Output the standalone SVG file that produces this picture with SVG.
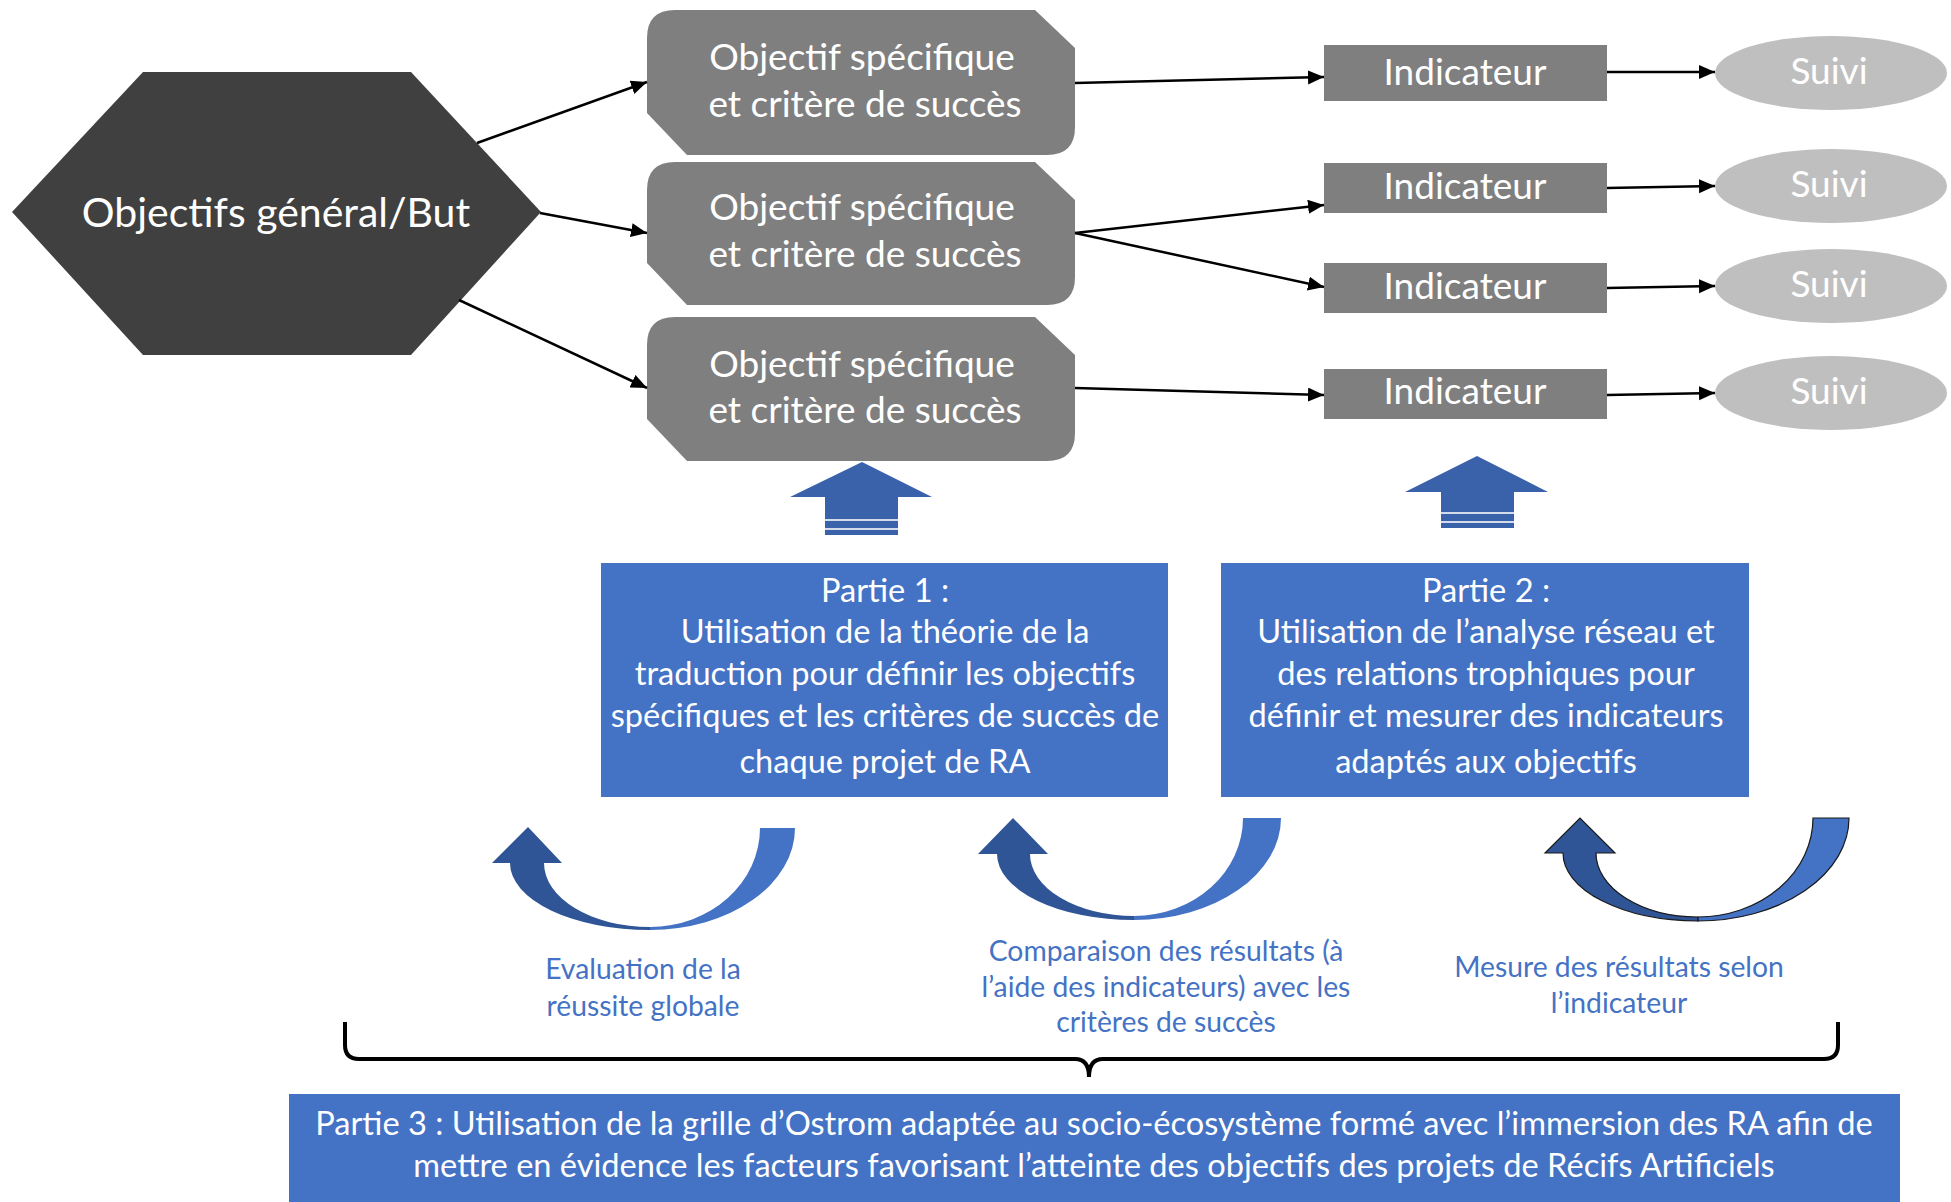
<svg xmlns="http://www.w3.org/2000/svg" width="1951" height="1202" viewBox="0 0 1951 1202">
<style>
text{font-family:Lato,"Open Sans","Liberation Sans",sans-serif;text-anchor:middle}
.w{fill:#fff}
.hx{font-size:41px}
.bx{font-size:37px}
.pt{font-size:32.6px}
.lb{font-size:28.3px;fill:#4472C4}
.p3{font-size:32.6px}
.obj{fill:#7f7f7f}
.ind{fill:#7f7f7f}
.sv{fill:#bfbfbf}
.blue{fill:#4472C4}
.up{fill:#3A62AB}
.st{fill:#D3DBEA}
.dk{fill:#2F5597}
.lt{fill:#4472C4}
.con line{stroke:#000;stroke-width:2.5;marker-end:url(#ah)}
</style>
<defs>
<marker id="ah" markerUnits="userSpaceOnUse" markerWidth="18" markerHeight="16" refX="16" refY="7" orient="auto"><path d="M0,0 L16,7 L0,14 z" fill="#000"/></marker>
</defs>
<rect width="1951" height="1202" fill="#fff"/>
<g id="but">
<polygon points="12,212 143,72 411,72 541,212 411,355 143,355" fill="#404040"/>
<text class="hx w" x="276" y="227">Objectifs général/But</text>
</g>
<g id="obj1">
<path class="obj" d="M675,10 L1035,10 L1075,48 L1075,127 Q1075,155 1047,155 L687,155 L647,113 L647,38 Q647,10 675,10 Z"/>
<text class="bx w" x="862" y="70">Objectif spécifique</text>
<text class="bx w" x="865" y="117">et critère de succès</text>
</g>
<g id="obj2">
<path class="obj" d="M675,162 L1035,162 L1075,200 L1075,277 Q1075,305 1047,305 L687,305 L647,263 L647,190 Q647,162 675,162 Z"/>
<text class="bx w" x="862" y="220">Objectif spécifique</text>
<text class="bx w" x="865" y="267">et critère de succès</text>
</g>
<g id="obj3">
<path class="obj" d="M675,317 L1035,317 L1075,355 L1075,433 Q1075,461 1047,461 L687,461 L647,419 L647,345 Q647,317 675,317 Z"/>
<text class="bx w" x="862" y="377">Objectif spécifique</text>
<text class="bx w" x="865" y="423">et critère de succès</text>
</g>
<g id="ind1"><rect class="ind" x="1324" y="45" width="283" height="56"/><text class="bx w" x="1465" y="85">Indicateur</text></g>
<g id="ind2"><rect class="ind" x="1324" y="163" width="283" height="50"/><text class="bx w" x="1465" y="199">Indicateur</text></g>
<g id="ind3"><rect class="ind" x="1324" y="263" width="283" height="50"/><text class="bx w" x="1465" y="299">Indicateur</text></g>
<g id="ind4"><rect class="ind" x="1324" y="369" width="283" height="50"/><text class="bx w" x="1465" y="404">Indicateur</text></g>
<g id="suivi1"><ellipse class="sv" cx="1831" cy="73" rx="116" ry="37"/><text class="bx w" x="1829" y="84">Suivi</text></g>
<g id="suivi2"><ellipse class="sv" cx="1831" cy="186" rx="116" ry="37"/><text class="bx w" x="1829" y="197">Suivi</text></g>
<g id="suivi3"><ellipse class="sv" cx="1831" cy="286" rx="116" ry="37"/><text class="bx w" x="1829" y="297">Suivi</text></g>
<g id="suivi4"><ellipse class="sv" cx="1831" cy="393" rx="116" ry="37"/><text class="bx w" x="1829" y="404">Suivi</text></g>
<g id="connectors" class="con">
<line x1="477" y1="143" x2="647" y2="82"/>
<line x1="540" y1="213" x2="647" y2="233"/>
<line x1="459" y1="300" x2="647" y2="388"/>
<line x1="1075" y1="83" x2="1324" y2="77"/>
<line x1="1075" y1="233" x2="1324" y2="205"/>
<line x1="1075" y1="233" x2="1324" y2="287"/>
<line x1="1075" y1="388" x2="1324" y2="395"/>
<line x1="1607" y1="72" x2="1715" y2="72"/>
<line x1="1607" y1="188" x2="1715" y2="186"/>
<line x1="1607" y1="288" x2="1715" y2="286"/>
<line x1="1607" y1="395" x2="1715" y2="393"/>
</g>
<g id="uparrow1">
<polygon class="up" points="862,462 932,497 898,497 898,535 825,535 825,497 790,497"/>
<rect class="st" x="825" y="519" width="73" height="2"/>
<rect class="st" x="825" y="528" width="73" height="2"/>
</g>
<g id="uparrow2">
<polygon class="up" points="1477,456 1548,492 1514,492 1514,528 1441,528 1441,492 1405,492"/>
<rect class="st" x="1441" y="512" width="73" height="2"/>
<rect class="st" x="1441" y="521" width="73" height="2"/>
</g>
<g id="partie1">
<rect class="blue" x="601" y="563" width="567" height="234"/>
<text class="pt w" x="885" y="602">Partie 1 :</text>
<text class="pt w" x="885" y="643">Utilisation de la théorie de la</text>
<text class="pt w" x="885" y="685">traduction pour définir les objectifs</text>
<text class="pt w" x="885" y="727">spécifiques et les critères de succès de</text>
<text class="pt w" x="885" y="773">chaque projet de RA</text>
</g>
<g id="partie2">
<rect class="blue" x="1221" y="563" width="528" height="234"/>
<text class="pt w" x="1486" y="602">Partie 2 :</text>
<text class="pt w" x="1486" y="643">Utilisation de l’analyse réseau et</text>
<text class="pt w" x="1486" y="685">des relations trophiques pour</text>
<text class="pt w" x="1486" y="727">définir et mesurer des indicateurs</text>
<text class="pt w" x="1486" y="773">adaptés aux objectifs</text>
</g>
<g id="loop1">
<path class="dk" d="M492,863 L528,827 L562,863 L544,863 A106,64 0 0 0 650,927 L650,930 A140,67 0 0 1 510,863 Z"/>
<path class="lt" d="M650,930 A145,102 0 0 0 795,828 L760,828 A110,99 0 0 1 650,927 Z"/>
</g>
<g id="loop2">
<path class="dk" d="M978,854 L1013,818 L1048,854 L1030,854 A104,62 0 0 0 1134,916 L1134,920 A137,66 0 0 1 997,854 Z"/>
<path class="lt" d="M1134,920 A147,102 0 0 0 1281,818 L1243,818 A109,98 0 0 1 1134,916 Z"/>
</g>
<g id="loop3" stroke="#1a1a1a" stroke-width="1.2">
<path class="dk" d="M1545,853 L1580,818 L1615,853 L1596,853 A102,64 0 0 0 1698,917 L1698,921 A135,68 0 0 1 1563,853 Z"/>
<path class="lt" d="M1698,921 A151,103 0 0 0 1849,818 L1813,818 A115,99 0 0 1 1698,917 Z"/>
</g>
<g id="label1">
<text class="lb" x="643" y="979">Evaluation de la</text>
<text class="lb" x="643" y="1016">réussite globale</text>
</g>
<g id="label2">
<text class="lb" x="1166" y="961">Comparaison des résultats (à</text>
<text class="lb" x="1166" y="997">l’aide des indicateurs) avec les</text>
<text class="lb" x="1166" y="1032">critères de succès</text>
</g>
<g id="label3">
<text class="lb" x="1619" y="977">Mesure des résultats selon</text>
<text class="lb" x="1619" y="1013">l’indicateur</text>
</g>
<g id="bracket">
<path d="M345,1022 L345,1045 Q345,1059 359,1059 L1075,1059 Q1089,1059 1089,1077 Q1089,1059 1103,1059 L1824,1059 Q1838,1059 1838,1045 L1838,1022" fill="none" stroke="#000" stroke-width="4"/>
</g>
<g id="partie3">
<rect class="blue" x="289" y="1094" width="1611" height="108"/>
<text class="p3 w" x="1094" y="1135">Partie 3 : Utilisation de la grille d’Ostrom adaptée au socio-écosystème formé avec l’immersion des RA afin de</text>
<text class="p3 w" x="1094" y="1177">mettre en évidence les facteurs favorisant l’atteinte des objectifs des projets de Récifs Artificiels</text>
</g>
</svg>
